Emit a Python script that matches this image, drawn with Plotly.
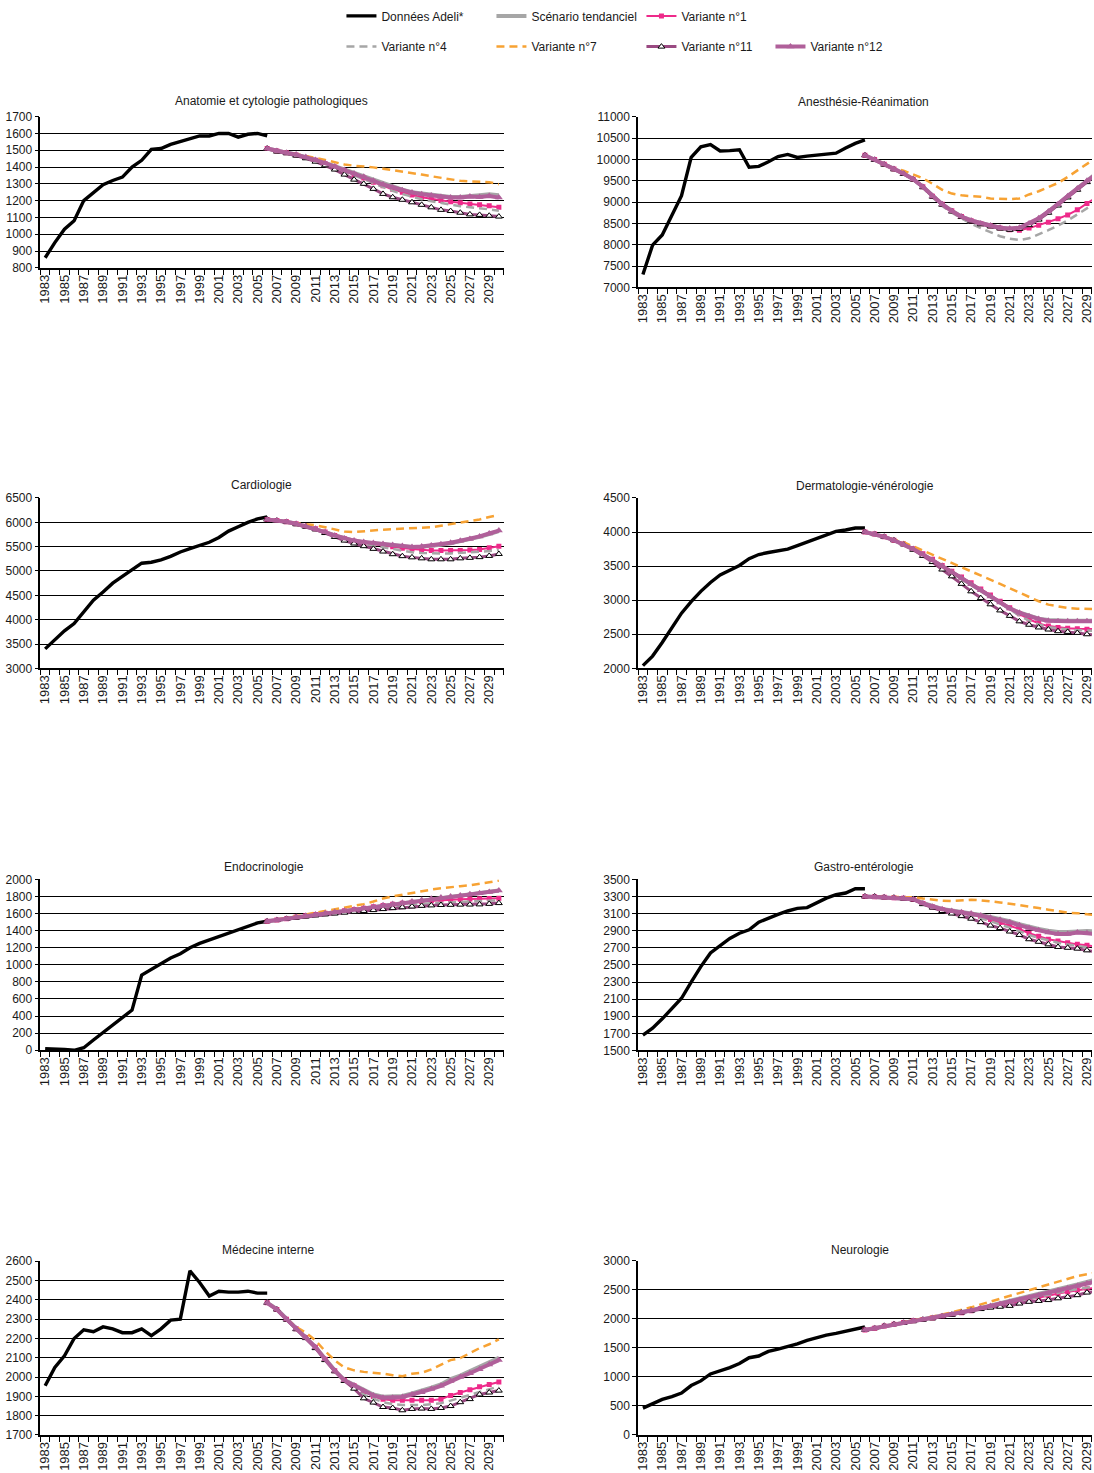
import plotly.graph_objects as go

# ---------------------------------------------------------------- data
YEARS_OBS = list(range(1983, 2007))      # observed (Adeli) years
YEARS_PROJ = list(range(2006, 2031))     # projection years

SERIES = ["Données Adeli*", "Scénario tendanciel", "Variante n°1", "Variante n°4",
          "Variante n°7", "Variante n°11", "Variante n°12"]

TITLES = ["Anatomie et cytologie pathologiques", "Anesthésie-Réanimation",
          "Cardiologie", "Dermatologie-vénérologie", "Endocrinologie",
          "Gastro-entérologie", "Médecine interne", "Neurologie"]

# y axis tick labels of each panel
ANAT_YTICKS = [800, 900, 1000, 1100, 1200, 1300, 1400, 1500, 1600, 1700]
ANES_YTICKS = [7000, 7500, 8000, 8500, 9000, 9500, 10000, 10500, 11000]
CARD_YTICKS = [3000, 3500, 4000, 4500, 5000, 5500, 6000, 6500]
DERM_YTICKS = [2000, 2500, 3000, 3500, 4000, 4500]
ENDO_YTICKS = [0, 200, 400, 600, 800, 1000, 1200, 1400, 1600, 1800, 2000]
GAST_YTICKS = [1500, 1700, 1900, 2100, 2300, 2500, 2700, 2900, 3100, 3300, 3500]
MEDI_YTICKS = [1700, 1800, 1900, 2000, 2100, 2200, 2300, 2400, 2500, 2600]
NEUR_YTICKS = [0, 500, 1000, 1500, 2000, 2500, 3000]

# Anatomie et cytologie pathologiques
ANAT_ADELI = [860, 950, 1030, 1080, 1200, 1250, 1295, 1320, 1340, 1400, 1440, 1505,
              1510, 1535, 1550, 1570, 1585, 1585, 1600, 1600, 1578, 1595, 1600, 1585]
ANAT_TEND = [1510, 1495, 1485, 1475, 1460, 1445, 1425, 1405, 1385, 1365, 1345, 1322, 1300,
             1282, 1265, 1250, 1242, 1235, 1228, 1222, 1222, 1225, 1232, 1238, 1232]
ANAT_V1 = [1510, 1495, 1485, 1472, 1457, 1440, 1420, 1400, 1378, 1356, 1334, 1310, 1288,
           1268, 1250, 1233, 1220, 1210, 1200, 1193, 1187, 1180, 1175, 1170, 1160]
ANAT_V4 = [1510, 1495, 1484, 1470, 1455, 1437, 1417, 1396, 1373, 1350, 1327, 1303, 1280,
           1258, 1240, 1222, 1208, 1196, 1185, 1175, 1167, 1160, 1155, 1148, 1140]
ANAT_V7 = [1510, 1495, 1488, 1478, 1468, 1455, 1442, 1428, 1415, 1408, 1405, 1398, 1390,
           1382, 1373, 1365, 1355, 1345, 1335, 1325, 1318, 1315, 1312, 1310, 1298]
ANAT_V11 = [1510, 1492, 1482, 1468, 1452, 1432, 1410, 1385, 1355, 1325, 1300, 1270, 1240,
            1220, 1205, 1190, 1175, 1160, 1145, 1138, 1128, 1118, 1115, 1110, 1105]
ANAT_V12 = [1510, 1495, 1485, 1474, 1460, 1442, 1423, 1403, 1383, 1362, 1342, 1318, 1296,
            1278, 1262, 1248, 1238, 1230, 1222, 1218, 1218, 1225, 1222, 1228, 1218]

# Anesthésie-Réanimation
ANES_ADELI = [7300, 7990, 8230, 8700, 9150, 10050, 10300, 10350, 10200, 10210, 10230, 9820,
              9840, 9950, 10070, 10120, 10050, 10080, 10100, 10120, 10150, 10270, 10380, 10460]
ANES_TEND = [10100, 10000, 9890, 9780, 9670, 9540, 9360, 9140, 8950, 8800, 8660, 8570, 8500,
             8450, 8400, 8370, 8390, 8480, 8610, 8770, 8950, 9140, 9320, 9500, 9680]
ANES_V1 = [10100, 10000, 9890, 9780, 9670, 9540, 9360, 9140, 8950, 8800, 8660, 8560, 8490,
           8440, 8390, 8350, 8340, 8390, 8460, 8530, 8610, 8700, 8820, 8970, 9120]
ANES_V4 = [10100, 10000, 9890, 9780, 9670, 9530, 9340, 9110, 8910, 8750, 8610, 8490, 8390,
           8290, 8200, 8140, 8110, 8150, 8240, 8340, 8450, 8570, 8710, 8860, 9000]
ANES_V7 = [10100, 10000, 9900, 9790, 9740, 9650, 9560, 9430, 9290, 9200, 9160, 9140, 9125,
           9085, 9070, 9070, 9085, 9180, 9255, 9350, 9450, 9590, 9745, 9900, 10050]
ANES_V11 = [10100, 9990, 9880, 9770, 9660, 9530, 9350, 9130, 8940, 8780, 8650, 8550, 8480,
            8430, 8380, 8350, 8370, 8460, 8590, 8750, 8920, 9110, 9290, 9470, 9650]
ANES_V12 = [10100, 10000, 9890, 9780, 9670, 9540, 9360, 9140, 8950, 8790, 8660, 8570, 8500,
            8450, 8400, 8380, 8400, 8500, 8620, 8780, 8950, 9140, 9320, 9500, 9670]

# Cardiologie
CARD_ADELI = [3400, 3590, 3770, 3920, 4160, 4400, 4570, 4750, 4890, 5030, 5160, 5180,
              5230, 5300, 5390, 5460, 5530, 5590, 5690, 5820, 5910, 6000, 6070, 6110]
CARD_TEND = [6060, 6040, 6010, 5970, 5920, 5870, 5800, 5730, 5670, 5620, 5590, 5570, 5550,
             5530, 5510, 5495, 5500, 5515, 5540, 5570, 5610, 5650, 5700, 5760, 5820]
CARD_V1 = [6060, 6040, 6010, 5970, 5920, 5870, 5800, 5730, 5665, 5610, 5580, 5560, 5530,
           5500, 5470, 5450, 5430, 5420, 5420, 5420, 5420, 5430, 5440, 5480, 5510]
CARD_V4 = [6060, 6040, 6010, 5970, 5920, 5865, 5795, 5720, 5650, 5590, 5555, 5525, 5485,
           5450, 5410, 5385, 5370, 5360, 5360, 5360, 5370, 5380, 5390, 5410, 5430]
CARD_V7 = [6060, 6040, 6010, 5980, 5960, 5940, 5900, 5850, 5810, 5800, 5820, 5840, 5850,
           5860, 5870, 5870, 5880, 5900, 5930, 5960, 5990, 6030, 6060, 6110, 6150]
CARD_V11 = [6060, 6035, 6005, 5960, 5910, 5855, 5780, 5700, 5625, 5565, 5510, 5455, 5400,
            5345, 5305, 5280, 5260, 5240, 5240, 5240, 5260, 5270, 5285, 5310, 5350]
CARD_V12 = [6060, 6040, 6010, 5970, 5920, 5870, 5800, 5730, 5670, 5625, 5595, 5575, 5555,
            5535, 5515, 5495, 5505, 5525, 5550, 5580, 5620, 5660, 5710, 5770, 5830]

# Dermatologie-vénérologie
DERM_ADELI = [2040, 2180, 2380, 2590, 2810, 2980, 3130, 3260, 3370, 3440, 3510, 3610,
              3670, 3700, 3720, 3750, 3800, 3850, 3900, 3960, 4010, 4030, 4060, 4060]
DERM_TEND = [4000, 3970, 3930, 3880, 3820, 3750, 3670, 3590, 3500, 3410, 3320, 3230, 3140,
             3050, 2960, 2880, 2820, 2770, 2730, 2710, 2700, 2700, 2700, 2700, 2700]
DERM_V1 = [4000, 3970, 3930, 3880, 3825, 3755, 3680, 3600, 3510, 3425, 3340, 3255, 3165,
           3075, 2985, 2890, 2800, 2720, 2660, 2620, 2600, 2590, 2580, 2575, 2575]
DERM_V4 = [4000, 3970, 3930, 3880, 3820, 3750, 3670, 3585, 3495, 3405, 3315, 3225, 3130,
           3040, 2950, 2860, 2775, 2700, 2645, 2605, 2585, 2570, 2560, 2555, 2550]
DERM_V7 = [4000, 3970, 3930, 3890, 3850, 3790, 3730, 3665, 3600, 3540, 3480, 3420, 3360,
           3300, 3240, 3175, 3110, 3045, 2985, 2935, 2905, 2885, 2875, 2870, 2870]
DERM_V11 = [4000, 3970, 3930, 3880, 3820, 3740, 3650, 3560, 3450, 3350, 3240, 3130, 3030,
            2940, 2850, 2770, 2690, 2640, 2600, 2570, 2545, 2535, 2520, 2500, 2490]
DERM_V12 = [4000, 3970, 3930, 3880, 3820, 3750, 3670, 3590, 3505, 3415, 3325, 3235, 3145,
            3055, 2965, 2880, 2815, 2765, 2725, 2700, 2690, 2690, 2690, 2690, 2690]

# Endocrinologie
ENDO_ADELI = [20, 20, 10, 0, 30, 120, 210, 300, 390, 470, 880, 950,
              1020, 1080, 1130, 1200, 1250, 1290, 1330, 1380, 1420, 1460, 1490, 1510]
ENDO_TEND = [1510, 1525, 1540, 1560, 1575, 1590, 1605, 1620, 1635, 1650, 1665, 1680, 1700,
             1715, 1730, 1745, 1760, 1775, 1790, 1805, 1815, 1830, 1840, 1855, 1870]
ENDO_V1 = [1510, 1525, 1540, 1558, 1573, 1588, 1603, 1618, 1633, 1648, 1662, 1678, 1695,
           1708, 1720, 1732, 1742, 1750, 1757, 1762, 1767, 1770, 1773, 1776, 1780]
ENDO_V4 = [1510, 1525, 1540, 1556, 1570, 1583, 1596, 1608, 1620, 1632, 1644, 1657, 1670,
           1682, 1693, 1703, 1712, 1720, 1726, 1732, 1737, 1742, 1746, 1750, 1755]
ENDO_V7 = [1510, 1528, 1545, 1568, 1590, 1610, 1630, 1650, 1670, 1690, 1710, 1740, 1775,
           1800, 1820, 1845, 1865, 1880, 1895, 1910, 1920, 1930, 1945, 1965, 1985]
ENDO_V11 = [1510, 1523, 1537, 1552, 1565, 1578, 1590, 1600, 1610, 1620, 1630, 1640, 1652,
            1663, 1673, 1682, 1690, 1695, 1700, 1702, 1704, 1705, 1707, 1713, 1722]
ENDO_V12 = [1510, 1525, 1540, 1558, 1573, 1588, 1603, 1618, 1633, 1648, 1662, 1678, 1697,
            1712, 1727, 1742, 1757, 1772, 1787, 1800, 1812, 1825, 1838, 1852, 1868]

# Gastro-entérologie
GAST_ADELI = [1680, 1760, 1870, 1990, 2110, 2300, 2480, 2640, 2720, 2810, 2870, 2910,
              3000, 3050, 3090, 3130, 3160, 3170, 3230, 3280, 3320, 3340, 3390, 3390]
GAST_TEND = [3300, 3295, 3290, 3285, 3280, 3270, 3225, 3185, 3155, 3135, 3120, 3105, 3085,
             3060, 3040, 3010, 2975, 2945, 2920, 2900, 2885, 2885, 2895, 2895, 2890]
GAST_V1 = [3300, 3295, 3290, 3285, 3278, 3265, 3218, 3178, 3145, 3125, 3108, 3090, 3065,
           3030, 2995, 2960, 2920, 2870, 2835, 2800, 2780, 2760, 2740, 2730, 2715]
GAST_V4 = [3300, 3295, 3290, 3284, 3276, 3262, 3215, 3172, 3138, 3115, 3095, 3072, 3045,
           3010, 2975, 2935, 2895, 2850, 2815, 2785, 2760, 2740, 2720, 2705, 2690]
GAST_V7 = [3300, 3298, 3295, 3292, 3290, 3290, 3275, 3260, 3250, 3245, 3250, 3262, 3255,
           3245, 3230, 3215, 3200, 3185, 3165, 3145, 3125, 3110, 3105, 3095, 3080]
GAST_V11 = [3300, 3300, 3290, 3285, 3275, 3265, 3210, 3170, 3130, 3100, 3070, 3040, 3000,
            2960, 2930, 2890, 2850, 2800, 2770, 2740, 2710, 2700, 2690, 2670, 2650]
GAST_V12 = [3300, 3295, 3290, 3285, 3280, 3268, 3220, 3180, 3150, 3130, 3115, 3100, 3078,
            3050, 3028, 2998, 2962, 2930, 2905, 2880, 2860, 2860, 2878, 2870, 2860]

# Médecine interne
MEDI_ADELI = [1955, 2050, 2110, 2200, 2245, 2235, 2260, 2250, 2230, 2230, 2250, 2215,
              2250, 2295, 2300, 2550, 2490, 2420, 2445, 2440, 2440, 2445, 2435, 2435]
MEDI_TEND = [2385, 2352, 2302, 2252, 2207, 2155, 2095, 2035, 1985, 1960, 1932, 1910, 1898,
             1898, 1902, 1915, 1928, 1945, 1962, 1990, 2008, 2032, 2052, 2075, 2100]
MEDI_V1 = [2385, 2350, 2300, 2250, 2205, 2155, 2093, 2033, 1983, 1955, 1925, 1900, 1885,
           1880, 1880, 1880, 1880, 1880, 1885, 1905, 1920, 1935, 1950, 1962, 1975]
MEDI_V4 = [2385, 2350, 2300, 2250, 2205, 2152, 2090, 2028, 1978, 1945, 1910, 1888, 1870,
           1860, 1855, 1855, 1855, 1860, 1865, 1878, 1892, 1907, 1922, 1937, 1952]
MEDI_V7 = [2385, 2350, 2300, 2260, 2230, 2190, 2135, 2087, 2050, 2035, 2027, 2023, 2018,
           2010, 2005, 2017, 2022, 2040, 2065, 2088, 2098, 2125, 2150, 2170, 2195]
MEDI_V11 = [2385, 2350, 2298, 2248, 2202, 2150, 2088, 2030, 1980, 1940, 1890, 1868, 1845,
            1840, 1828, 1835, 1837, 1835, 1840, 1850, 1870, 1886, 1910, 1920, 1930]
MEDI_V12 = [2385, 2350, 2300, 2250, 2205, 2155, 2093, 2033, 1983, 1957, 1928, 1905, 1893,
            1893, 1897, 1910, 1922, 1938, 1955, 1980, 2000, 2020, 2040, 2065, 2088]

# Neurologie
NEUR_ADELI = [460, 530, 610, 660, 720, 850, 930, 1050, 1100, 1160, 1230, 1330,
              1360, 1440, 1480, 1520, 1570, 1630, 1680, 1720, 1750, 1790, 1830, 1860]
NEUR_TEND = [1810, 1840, 1880, 1910, 1940, 1970, 1995, 2020, 2050, 2080, 2115, 2150, 2190,
             2230, 2265, 2300, 2340, 2380, 2420, 2460, 2505, 2550, 2595, 2640, 2680]
NEUR_V1 = [1810, 1840, 1878, 1908, 1938, 1967, 1992, 2017, 2045, 2075, 2105, 2140, 2180,
           2210, 2245, 2280, 2310, 2340, 2370, 2400, 2440, 2470, 2500, 2520, 2540]
NEUR_V4 = [1810, 1840, 1878, 1908, 1938, 1966, 1990, 2015, 2043, 2072, 2102, 2137, 2175,
           2208, 2243, 2278, 2312, 2345, 2378, 2412, 2450, 2485, 2515, 2540, 2560]
NEUR_V7 = [1810, 1842, 1880, 1912, 1945, 1975, 2002, 2035, 2075, 2115, 2155, 2200, 2250,
           2300, 2350, 2400, 2450, 2500, 2550, 2600, 2650, 2700, 2740, 2770, 2800]
NEUR_V11 = [1810, 1840, 1880, 1910, 1930, 1960, 1985, 2010, 2040, 2070, 2110, 2140, 2170,
            2195, 2210, 2225, 2265, 2295, 2310, 2325, 2355, 2380, 2410, 2455, 2470]
NEUR_V12 = [1810, 1840, 1878, 1908, 1938, 1967, 1992, 2017, 2046, 2076, 2110, 2145, 2183,
            2222, 2256, 2290, 2328, 2366, 2404, 2443, 2485, 2528, 2570, 2612, 2650]

PANELS = [
    (ANAT_YTICKS, [ANAT_ADELI, ANAT_TEND, ANAT_V1, ANAT_V4, ANAT_V7, ANAT_V11, ANAT_V12]),
    (ANES_YTICKS, [ANES_ADELI, ANES_TEND, ANES_V1, ANES_V4, ANES_V7, ANES_V11, ANES_V12]),
    (CARD_YTICKS, [CARD_ADELI, CARD_TEND, CARD_V1, CARD_V4, CARD_V7, CARD_V11, CARD_V12]),
    (DERM_YTICKS, [DERM_ADELI, DERM_TEND, DERM_V1, DERM_V4, DERM_V7, DERM_V11, DERM_V12]),
    (ENDO_YTICKS, [ENDO_ADELI, ENDO_TEND, ENDO_V1, ENDO_V4, ENDO_V7, ENDO_V11, ENDO_V12]),
    (GAST_YTICKS, [GAST_ADELI, GAST_TEND, GAST_V1, GAST_V4, GAST_V7, GAST_V11, GAST_V12]),
    (MEDI_YTICKS, [MEDI_ADELI, MEDI_TEND, MEDI_V1, MEDI_V4, MEDI_V7, MEDI_V11, MEDI_V12]),
    (NEUR_YTICKS, [NEUR_ADELI, NEUR_TEND, NEUR_V1, NEUR_V4, NEUR_V7, NEUR_V11, NEUR_V12]),
]

# ---------------------------------------------------------------- layout
W, H = 1094, 1473
FONT = "Liberation Sans Narrow, Arial Narrow, Liberation Sans, Arial, sans-serif"
TXT = "#1a1a1a"

# plot boxes in pixels: left, right, top, bottom
BOXES = [
    (37.5, 503, 110.7, 263.3), (638, 1094, 111, 283),
    (37.5, 503, 495.7, 667.7), (638, 1094, 495.7, 667.7),
    (37.5, 503, 880.7, 1053.3), (638, 1094, 880.7, 1053.5),
    (37.5, 503, 1266.3, 1441.7), (638, 1094, 1266, 1441.5),
]
TITLE_POS = [(270, 95), (864, 96), (260, 483), (866, 483.5),
             (262, 868.7), (865, 868.7), (266, 1254.7), (861, 1254.7)]
PX_PER_YEAR = (503 - 37.5) / 48.0

PURPLE11 = "#9a4a82"
PURPLE12 = "#b0609a"
STYLES = [
    dict(mode="lines", line=dict(color="#000000", width=3.4)),
    dict(mode="lines", line=dict(color="#a6a6a6", width=4)),
    dict(mode="lines+markers", line=dict(color="#ee2a8a", width=2),
         marker=dict(symbol="square", size=5, color="#ee2a8a")),
    dict(mode="lines", line=dict(color="#a6a6a6", width=2.5, dash="8px,5px")),
    dict(mode="lines", line=dict(color="#f7a233", width=2.5, dash="8px,5px")),
    dict(mode="lines+markers", line=dict(color=PURPLE11, width=3),
         marker=dict(symbol="triangle-up", size=6, color="#ffffff",
                     line=dict(color="#000000", width=1))),
    dict(mode="lines+markers", line=dict(color=PURPLE12, width=4),
         marker=dict(symbol="triangle-up", size=7, color=PURPLE12)),
]
LEGEND_OF = ["legend", "legend", "legend", "legend2", "legend2", "legend2", "legend3"]

fig = go.Figure()
layout = {}

for i, (yticks, series) in enumerate(PANELS):
    sfx = "" if i == 0 else str(i + 1)
    xa, ya = "x" + sfx, "y" + sfx
    for k, (name, vals) in enumerate(zip(SERIES, series)):
        xs = YEARS_OBS if k == 0 else YEARS_PROJ
        fig.add_trace(go.Scatter(
            x=xs, y=vals, name=name, xaxis=xa, yaxis=ya,
            showlegend=(i == 0), legend=LEGEND_OF[k],
            hoverinfo="skip", **STYLES[k]))

    l, r, t, b = BOXES[i]
    x_hi = 1982.5 + (r - l) / PX_PER_YEAR
    layout["xaxis" + sfx] = dict(
        domain=[l / W, r / W], anchor=ya, range=[1982.5, x_hi],
        tickmode="linear", tick0=1983, dtick=2, tickangle=-90,
        ticks="", showgrid=False, zeroline=False, ticklabeloverflow="allow",
        showline=True, linecolor="#000000", linewidth=1.5,
        minor=dict(tickmode="linear", tick0=1982.5, dtick=1, ticks="outside",
                   ticklen=5, tickcolor="#000000", tickwidth=1, showgrid=False),
        tickfont=dict(family=FONT, size=13, color=TXT), fixedrange=True)
    layout["yaxis" + sfx] = dict(
        domain=[1 - b / H, 1 - t / H], anchor=xa,
        range=[yticks[0], yticks[-1]], tickmode="array", tickvals=yticks,
        ticktext=[str(v) for v in yticks],
        ticks="outside", ticklen=4, tickcolor="#000000",
        showgrid=True, gridcolor="#000000", gridwidth=1.2, zeroline=False,
        showline=True, linecolor="#000000", linewidth=1.5,
        tickfont=dict(family=FONT, size=12, color=TXT), fixedrange=True)

annotations = [
    dict(text=TITLES[i], x=TITLE_POS[i][0] / W, y=1 - TITLE_POS[i][1] / H,
         xref="paper", yref="paper", xanchor="center", yanchor="middle",
         showarrow=False, font=dict(family=FONT, size=12, color=TXT))
    for i in range(len(TITLES))
]

legend_common = dict(orientation="h", xanchor="left", yanchor="middle",
                     entrywidth=105, entrywidthmode="pixels", itemwidth=30,
                     bgcolor="rgba(0,0,0,0)", traceorder="normal",
                     font=dict(family=FONT, size=12, color=TXT))

fig.update_layout(
    width=W, height=H, margin=dict(l=0, r=0, t=0, b=0),
    paper_bgcolor="#ffffff", plot_bgcolor="#ffffff",
    annotations=annotations,
    legend=dict(x=340 / W, y=1 - 9 / H, **legend_common),
    legend2=dict(x=340 / W, y=1 - 40 / H, **legend_common),
    legend3=dict(x=771 / W, y=1 - 40 / H, **legend_common),
    **layout)

fig.write_html("out.html")
